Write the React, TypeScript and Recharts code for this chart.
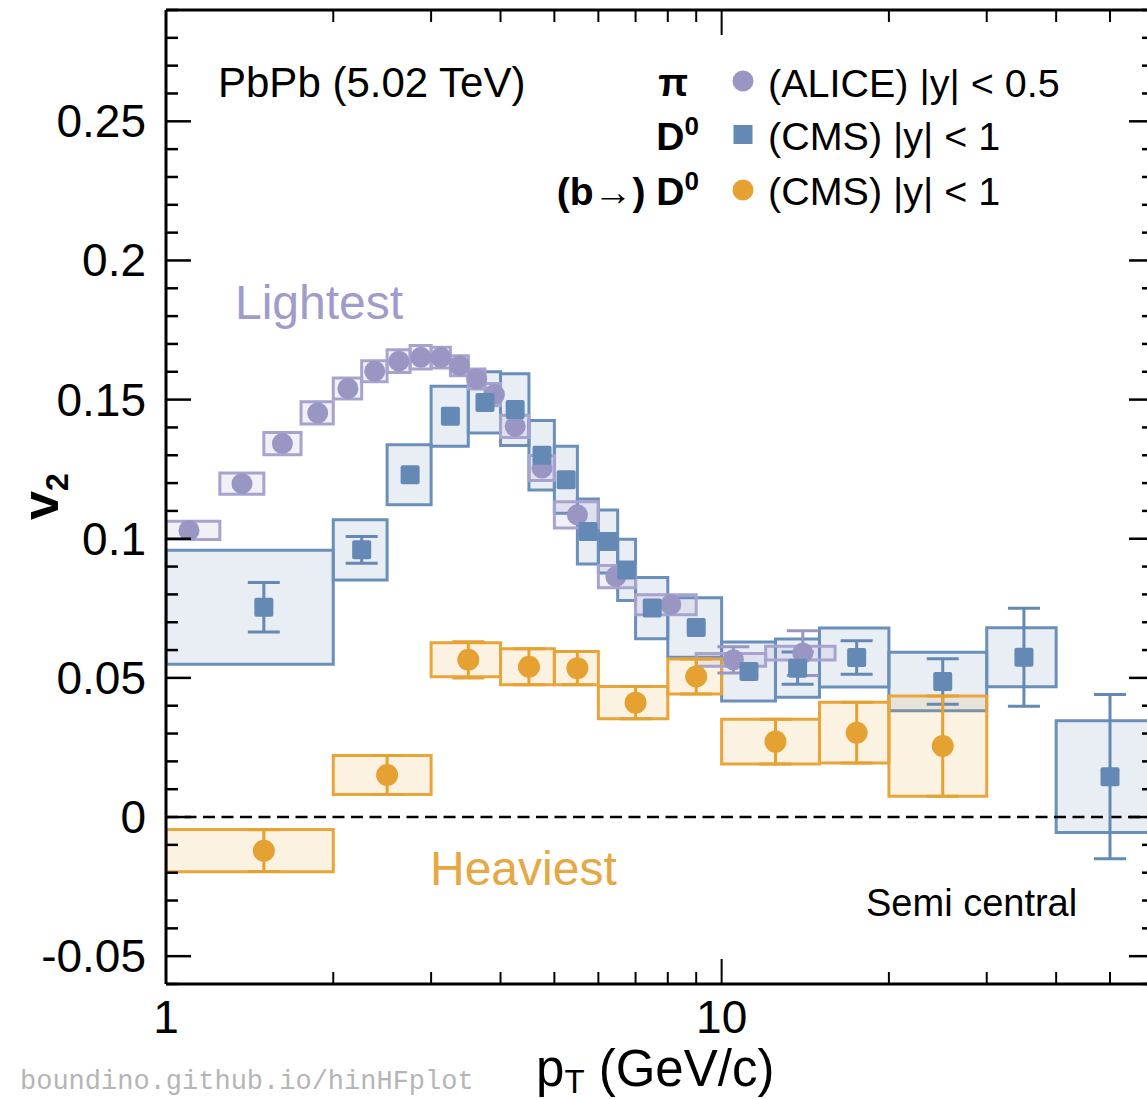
import React from 'react'
import { ComposedChart, XAxis, YAxis, Scatter, ErrorBar, ReferenceArea, ReferenceLine } from 'recharts'

// pi (ALICE) |y| < 0.5
const piPt = [1.1, 1.37, 1.62, 1.875, 2.125, 2.375, 2.625, 2.875, 3.125, 3.375, 3.625, 3.9, 4.25, 4.75, 5.5, 6.45, 8.1, 10.5, 14]
const piV2 = [0.103, 0.1198, 0.1342, 0.1452, 0.154, 0.1602, 0.1638, 0.1652, 0.1651, 0.1622, 0.1574, 0.1518, 0.1404, 0.1254, 0.1086, 0.0864, 0.0763, 0.0565, 0.0589]
const piStat = [0, 0, 0, 0, 0, 0, 0, 0, 0, 0, 0, 0, 0, 0, 0, 0, 0, 0.0047, 0.008]
const piSys = [0.0033, 0.0038, 0.004, 0.004, 0.0038, 0.0038, 0.0041, 0.0042, 0.0037, 0.0036, 0.0036, 0.004, 0.004, 0.0045, 0.0047, 0.004, 0.0036, 0.0023, 0.0025]
const piLo = [1.0, 1.25, 1.5, 1.75, 2.0, 2.25, 2.5, 2.75, 3.0, 3.25, 3.5, 3.75, 4.0, 4.5, 5.0, 6.0, 7.0, 9.0, 12.0]
const piHi = [1.25, 1.5, 1.75, 2.0, 2.25, 2.5, 2.75, 3.0, 3.25, 3.5, 3.75, 4.0, 4.5, 5.0, 6.0, 7.0, 9.0, 12.0, 16.0]

// D0 (CMS) |y| < 1
const dPt = [1.5, 2.25, 2.75, 3.25, 3.75, 4.25, 4.75, 5.25, 5.75, 6.25, 6.75, 7.5, 9.0, 11.2, 13.7, 17.5, 25, 35, 50]
const dV2 = [0.0754, 0.096, 0.123, 0.144, 0.149, 0.1464, 0.13, 0.1212, 0.1026, 0.099, 0.0888, 0.0751, 0.0681, 0.0523, 0.0535, 0.0573, 0.0487, 0.0574, 0.0145]
const dStat = [0.0089, 0.0048, 0, 0, 0, 0, 0, 0, 0, 0, 0, 0, 0, 0, 0.0058, 0.006, 0.0082, 0.0176, 0.0295]
const dSys = [0.0205, 0.0108, 0.0108, 0.0108, 0.011, 0.0129, 0.0125, 0.012, 0.0117, 0.0113, 0.011, 0.011, 0.0107, 0.0106, 0.0105, 0.0106, 0.0105, 0.0106, 0.0201]
const dLo = [1, 2, 2.5, 3, 3.5, 4, 4.5, 5, 5.5, 6, 6.5, 7, 8, 10, 12.5, 15, 20, 30, 40]
const dHi = [2, 2.5, 3, 3.5, 4, 4.5, 5, 5.5, 6, 6.5, 7, 8, 10, 12.5, 15, 20, 30, 40, 60]

// (b->) D0 (CMS) |y| < 1
const bPt = [1.5, 2.5, 3.5, 4.5, 5.5, 7.0, 9.0, 12.5, 17.5, 25]
const bV2 = [-0.0121, 0.0151, 0.0565, 0.054, 0.0535, 0.0411, 0.0505, 0.0271, 0.0303, 0.0255]
const bStat = [0.0075, 0.007, 0.0065, 0.0065, 0.006, 0.0058, 0.0063, 0.008, 0.0109, 0.018]
const bSys = [0.0076, 0.007, 0.0061, 0.0065, 0.006, 0.0058, 0.0063, 0.008, 0.0109, 0.018]
const bLo = [1, 2, 3, 4, 5, 6, 8, 10, 15, 20]
const bHi = [2, 3, 4, 5, 6, 8, 10, 15, 20, 30]

const xTicks = [1, 2, 3, 4, 5, 6, 7, 8, 9, 10, 20, 30, 40, 50, 60]
const xMajor = [1, 10]
const yTicks = [-0.06, -0.05, -0.04, -0.03, -0.02, -0.01, 0, 0.01, 0.02, 0.03, 0.04, 0.05, 0.06, 0.07, 0.08, 0.09, 0.1,
  0.11, 0.12, 0.13, 0.14, 0.15, 0.16, 0.17, 0.18, 0.19, 0.2, 0.21, 0.22, 0.23, 0.24, 0.25, 0.26, 0.27, 0.28, 0.29]
const yMajor = [-0.05, 0, 0.05, 0.1, 0.15, 0.2, 0.25]
const yLabels = ['-0.05', '0', '0.05', '0.1', '0.15', '0.2', '0.25']

const PURPLE = '#9a96c4'
const BLUE = '#6389b4'
const ORANGE = '#e5a232'
const FONT = '"Liberation Sans", Arial, Helvetica, sans-serif'

const toPoints = (pt: number[], v2: number[], err: number[]) =>
  pt.map((p, i) => ({ pt: p, v2: v2[i], err: err[i] }))

const piData = toPoints(piPt, piV2, piStat)
const dData = toPoints(dPt, dV2, dStat)
const bData = toPoints(bPt, bV2, bStat)

const majorY = (v: number) => yMajor.findIndex((m) => Math.abs(m - v) < 1e-6)

const LeftTick = (p: any) => {
  const k = majorY(p.payload.value)
  return (
    <g>
      <line x1={p.x} x2={p.x + (k >= 0 ? 25 : 12)} y1={p.y} y2={p.y} stroke="#000" strokeWidth={2.5} />
      {k >= 0 && (
        <text x={p.x - 20} y={p.y} textAnchor="end" dominantBaseline="central" fontSize={46} fontFamily={FONT} fill="#000">
          {yLabels[k]}
        </text>
      )}
    </g>
  )
}

const RightTick = (p: any) => {
  const k = majorY(p.payload.value)
  return <line x1={p.x} x2={p.x - (k >= 0 ? 25 : 12)} y1={p.y} y2={p.y} stroke="#000" strokeWidth={2.5} />
}

const BottomTick = (p: any) => {
  const major = xMajor.includes(p.payload.value)
  return (
    <g>
      <line x1={p.x} x2={p.x} y1={p.y} y2={p.y - (major ? 25 : 12)} stroke="#000" strokeWidth={2} />
      {major && (
        <text x={p.x} y={p.y + 33} textAnchor="middle" dominantBaseline="central" fontSize={46} fontFamily={FONT} fill="#000">
          {p.payload.value}
        </text>
      )}
    </g>
  )
}

const TopTick = (p: any) => {
  const major = xMajor.includes(p.payload.value)
  return <line x1={p.x} x2={p.x} y1={p.y} y2={p.y + (major ? 25 : 12)} stroke="#000" strokeWidth={2} />
}

const Dot = (color: string, r: number) => (p: any) => <circle cx={p.cx} cy={p.cy} r={r} fill={color} />
const Square = (color: string, s: number) => (p: any) => (
  <rect x={p.cx - s / 2} y={p.cy - s / 2} width={s} height={s} rx={2} fill={color} />
)

const boxes = (lo: number[], hi: number[], v2: number[], sys: number[], stroke: string, fill: string, key: string) =>
  lo.map((l, i) => (
    <ReferenceArea
      key={key + i}
      x1={l}
      x2={hi[i]}
      y1={v2[i] - sys[i]}
      y2={v2[i] + sys[i]}
      stroke={stroke}
      strokeWidth={3}
      fill={fill}
      fillOpacity={0.14}
      strokeOpacity={1}
      ifOverflow="hidden"
    />
  ))

export default function App() {
  return (
    <div style={{ position: 'absolute', left: 0, top: 0, width: 1147, height: 1099, overflow: 'hidden', background: '#fff' }}>
      <ComposedChart width={1160} height={1099} margin={{ top: 0, right: 0, bottom: 0, left: 0 }}>
        <XAxis
          dataKey="pt"
          type="number"
          scale="log"
          domain={[1, 60]}
          allowDataOverflow
          ticks={xTicks}
          interval={0}
          tickSize={0}
          tickMargin={0}
          tick={<BottomTick />}
          tickLine={false}
          height={115}
          axisLine={{ stroke: '#000', strokeWidth: 3 }}
        />
        <XAxis
          xAxisId="top"
          orientation="top"
          dataKey="pt"
          type="number"
          scale="log"
          domain={[1, 60]}
          allowDataOverflow
          ticks={xTicks}
          interval={0}
          tickSize={0}
          tickMargin={0}
          tick={<TopTick />}
          tickLine={false}
          height={10}
          axisLine={{ stroke: '#000', strokeWidth: 3 }}
        />
        <YAxis
          dataKey="v2"
          type="number"
          domain={[-0.06, 0.29]}
          allowDataOverflow
          ticks={yTicks}
          interval={0}
          tickSize={0}
          tickMargin={0}
          tick={<LeftTick />}
          tickLine={false}
          width={166}
          axisLine={{ stroke: '#000', strokeWidth: 3 }}
        />
        <YAxis
          yAxisId="right"
          orientation="right"
          type="number"
          domain={[-0.06, 0.29]}
          allowDataOverflow
          ticks={yTicks}
          interval={0}
          tickSize={0}
          tickMargin={0}
          tick={<RightTick />}
          tickLine={false}
          width={6}
          axisLine={{ stroke: '#000', strokeWidth: 3 }}
        />

        {boxes(dLo, dHi, dV2, dSys, '#6a8fba', BLUE, 'd')}
        {boxes(bLo, bHi, bV2, bSys, '#e9a53a', ORANGE, 'b')}
        {boxes(piLo, piHi, piV2, piSys, '#a7a3ce', PURPLE, 'p')}

        <ReferenceLine y={0} stroke="#000" strokeWidth={2.5} strokeDasharray="12 6.5" />

        <Scatter data={piData} shape={Dot(PURPLE, 10.5)} isAnimationActive={false}>
          <ErrorBar dataKey="err" direction="y" width={16} stroke={PURPLE} strokeWidth={3} />
        </Scatter>
        <Scatter data={dData} shape={Square(BLUE, 19)} isAnimationActive={false}>
          <ErrorBar dataKey="err" direction="y" width={16} stroke={BLUE} strokeWidth={3} />
        </Scatter>
        <Scatter data={bData} shape={Dot(ORANGE, 11)} isAnimationActive={false}>
          <ErrorBar dataKey="err" direction="y" width={16} stroke={ORANGE} strokeWidth={3} />
        </Scatter>
      </ComposedChart>

      <svg width={1147} height={1099} style={{ position: 'absolute', left: 0, top: 0, pointerEvents: 'none' }} fontFamily={FONT}>
        <text x={218} y={97} fontSize={42} fill="#000">PbPb (5.02 TeV)</text>

        <text x={688} y={96} fontSize={39} fontWeight="bold" textAnchor="end" fill="#000">π</text>
        <text x={699} y={150} fontSize={39} fontWeight="bold" textAnchor="end" fill="#000">
          D<tspan fontSize={26} dy={-15}>0</tspan>
        </text>
        <text x={699} y={205} fontSize={39} fontWeight="bold" textAnchor="end" fill="#000">
          (b→) D<tspan fontSize={26} dy={-15}>0</tspan>
        </text>
        <circle cx={743} cy={81} r={10.5} fill={PURPLE} />
        <rect x={733.5} y={125} width={19} height={19} fill={BLUE} />
        <circle cx={743} cy={190} r={10.5} fill={ORANGE} />
        <text x={768} y={97} fontSize={39.5} fill="#000">(ALICE) |y| &lt; 0.5</text>
        <text x={768} y={150} fontSize={39.5} fill="#000">(CMS) |y| &lt; 1</text>
        <text x={768} y={205} fontSize={39.5} fill="#000">(CMS) |y| &lt; 1</text>

        <text x={235} y={319} fontSize={48} fill="#9f9bcb">Lightest</text>
        <text x={430} y={885} fontSize={48} fill="#e6a843">Heaviest</text>
        <text x={866} y={916} fontSize={38} fill="#000">Semi central</text>

        <text x={20} y={1089} fontSize={27} fontFamily='"Liberation Mono", monospace' fill="#b5b5b5">boundino.github.io/hinHFplot</text>

        <text x={536} y={1086} fontSize={51} fill="#000">
          p<tspan fontSize={33} dy={7}>T</tspan>
          <tspan dy={-7}> (GeV/c)</tspan>
        </text>
        <text transform="translate(58,520) rotate(-90)" fontSize={52} fontWeight="bold" fill="#000">
          v<tspan fontSize={32} dy={10}>2</tspan>
        </text>
      </svg>
    </div>
  )
}
